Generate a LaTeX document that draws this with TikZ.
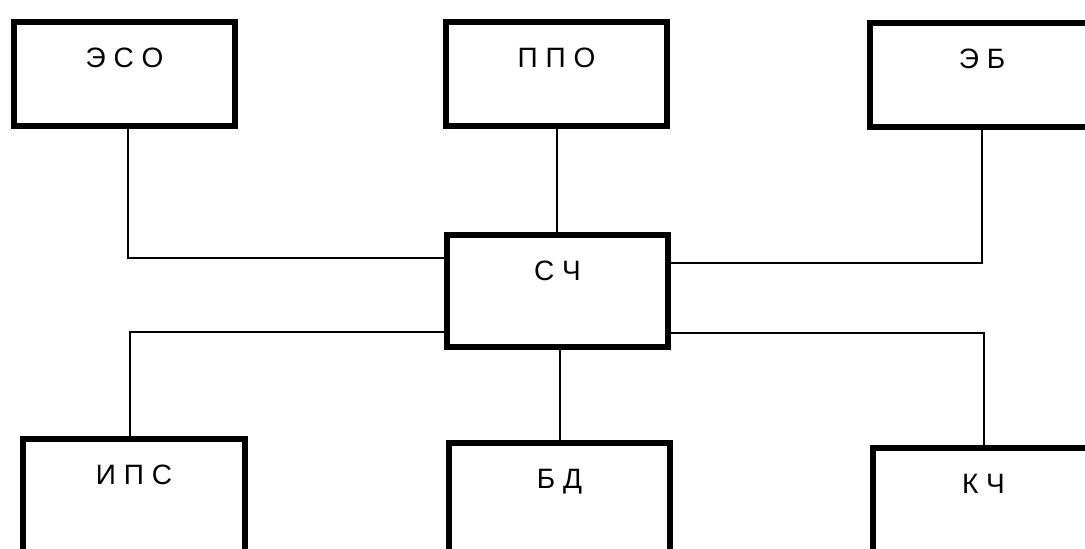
\documentclass[tikz,border=0pt]{standalone}
\usepackage{fontspec}
\setmainfont{Liberation Sans}
\usetikzlibrary{calc}

\tikzset{every picture/.style={line width=0.75pt}}
\tikzset{
  blk/.style={draw, line width=4.5pt, inner sep=0pt, anchor=north,
    minimum width=166pt, text height=34pt, font=\fontsize{21}{25}\selectfont},
  toprow/.style={blk, text depth=44pt},
  midrow/.style={blk, text depth=50pt},
  botrow/.style={blk, text depth=70pt},
  wire/.style={line width=1.5pt}
}

\begin{document}
\begin{tikzpicture}[x=0.75pt,y=0.75pt,yscale=-1,xscale=1]
	\useasboundingbox (0,0) rectangle (1085,549);

	%Shape: Rectangle
	\node [toprow] (eso) at (124.5,19) {Э С О};
	%Shape: Rectangle
	\node [toprow] (ppo) at (556.5,19) {П П О};
	%Shape: Rectangle
	\node [toprow, minimum width=168pt] (eb) at (982,20) {Э Б};
	%Shape: Rectangle
	\node [midrow] (sch) at (557.5,232) {С Ч};
	%Shape: Rectangle
	\node [botrow] (ips) at (134,436) {И П С};
	%Shape: Rectangle
	\node [botrow] (bd) at (559.5,440) {Б Д};
	%Shape: Rectangle
	\node [botrow] (kch) at (983.5,445) {К Ч};

	%Straight Lines
	\draw [wire] ($(eso.south)+(3.5,0)$) |- ($(sch.west)+(0,-33)$) ;
	%Straight Lines
	\draw [wire] (ppo.south) -- (ppo.south |- sch.north) ;
	%Straight Lines
	\draw [wire] (eb.south) |- ($(sch.east)+(0,-28)$) ;
	%Straight Lines
	\draw [wire] ($(ips.north)+(-4,0)$) |- ($(sch.west)+(0,41)$) ;
	%Straight Lines
	\draw [wire] (bd.north) -- (bd.north |- sch.south) ;
	%Straight Lines
	\draw [wire] (kch.north) |- ($(sch.east)+(0,42)$) ;

\end{tikzpicture}
\end{document}
